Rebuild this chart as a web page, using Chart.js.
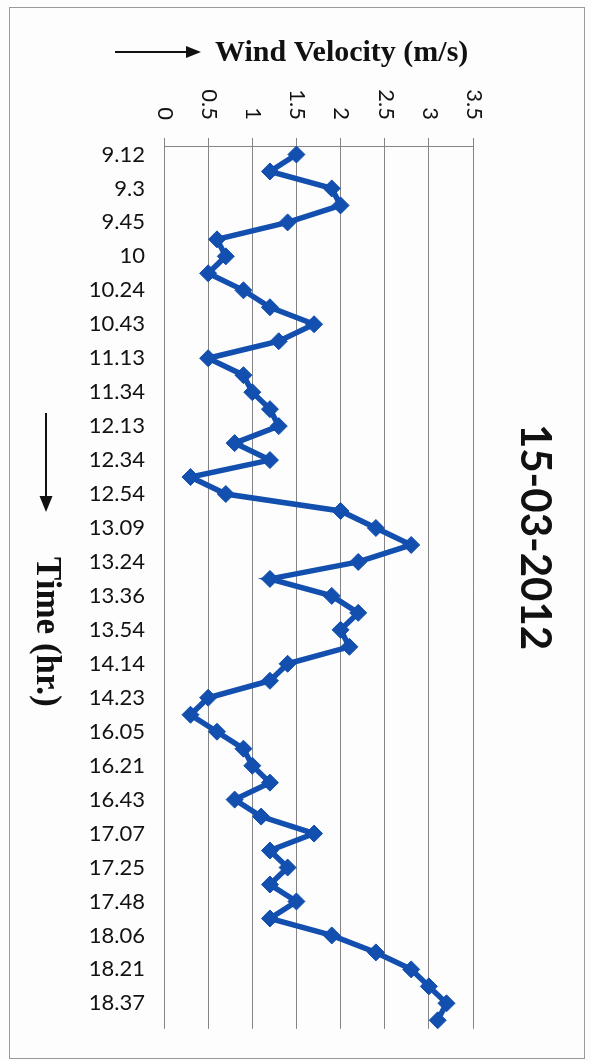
<!DOCTYPE html>
<html>
<head>
<meta charset="utf-8">
<title>Wind Velocity 15-03-2012</title>
<script src="https://cdn.jsdelivr.net/npm/chart.js@4/dist/chart.umd.min.js"></script>
<style>
  html, body { margin: 0; padding: 0; background: #fdfdfd; }
  #wrap { width: 591px; height: 1061px; }
</style>
</head>
<body>
<div id="wrap"><canvas id="chart" width="591" height="1061"></canvas></div>
<script>
// Time of reading (hr.) – labelled readings; a reading between each pair is unlabelled
const timeLabels = [
  '9.12', '9.3', '9.45', '10', '10.24', '10.43', '11.13', '11.34', '12.13',
  '12.34', '12.54', '13.09', '13.24', '13.36', '13.54', '14.14', '14.23',
  '16.05', '16.21', '16.43', '17.07', '17.25', '17.48', '18.06', '18.21', '18.37'
];

// Wind velocity (m/s), one value per reading
const windVelocity = [
  1.5, 1.2, 1.9, 2.0, 1.4, 0.6, 0.7, 0.5, 0.9, 1.2, 1.7, 1.3, 0.5,
  0.9, 1.0, 1.2, 1.3, 0.8, 1.2, 0.3, 0.7, 2.0, 2.4, 2.8, 2.2, 1.2,
  1.9, 2.2, 2.0, 2.1, 1.4, 1.2, 0.5, 0.3, 0.6, 0.9, 1.0, 1.2, 0.8,
  1.1, 1.7, 1.2, 1.4, 1.2, 1.5, 1.2, 1.9, 2.4, 2.8, 3.0, 3.2, 3.1
];

// Velocity axis range
const velocityMin = 0;
const velocityMax = 3.5;
const velocityStep = 0.5;

const chartTitle = '15-03-2012';
const velocityTitle = 'Wind Velocity (m/s)';
const timeTitle = 'Time (hr.)';

// every second reading carries a time label
const categories = windVelocity.map((_, i) => (i % 2 === 0 ? (timeLabels[i / 2] || '') : ''));

const SERIES_BLUE = '#124fae';
const GRID_GREY = '#858585';
const TEXT = '#121212';

function arrow(ctx, x1, y1, x2, y2, head, half) {
  const ang = Math.atan2(y2 - y1, x2 - x1);
  ctx.save();
  ctx.strokeStyle = '#111';
  ctx.fillStyle = '#111';
  ctx.lineWidth = 2;
  ctx.beginPath();
  ctx.moveTo(x1, y1);
  ctx.lineTo(x2 - Math.cos(ang) * head, y2 - Math.sin(ang) * head);
  ctx.stroke();
  ctx.translate(x2, y2);
  ctx.rotate(ang);
  ctx.beginPath();
  ctx.moveTo(0, 0);
  ctx.lineTo(-head, -half);
  ctx.lineTo(-head, half);
  ctx.closePath();
  ctx.fill();
  ctx.restore();
}

// Frame, rotated value labels, titles and direction arrows
const decorations = {
  id: 'decorations',
  beforeDraw(chart) {
    const ctx = chart.ctx;
    ctx.save();
    ctx.fillStyle = '#fdfdfd';
    ctx.fillRect(0, 0, chart.width, chart.height);
    ctx.strokeStyle = '#9a9a9a';
    ctx.lineWidth = 1;
    ctx.strokeRect(9.5, 7.5, 575, 1051);
    ctx.restore();
  },
  afterDraw(chart) {
    const ctx = chart.ctx;
    const xs = chart.scales.x;

    // velocity tick labels, turned a quarter clockwise, ending above the tick marks
    ctx.save();
    ctx.fillStyle = TEXT;
    ctx.font = '22px Lato';
    ctx.textAlign = 'right';
    ctx.textBaseline = 'middle';
    const labelEnd = xs.bottom - 26;
    xs.ticks.forEach(t => {
      const px = xs.getPixelForValue(t.value);
      ctx.save();
      ctx.translate(px + 1, labelEnd);
      ctx.rotate(Math.PI / 2);
      ctx.fillText(String(Number(t.value.toFixed(2))), 0, 0);
      ctx.restore();
    });
    ctx.restore();

    // chart title on the right
    ctx.save();
    ctx.fillStyle = '#111';
    ctx.font = 'bold 42px Lato';
    ctx.textAlign = 'center';
    ctx.textBaseline = 'middle';
    ctx.translate(535, 537);
    ctx.rotate(Math.PI / 2);
    ctx.fillText(chartTitle, 0, 0);
    ctx.restore();

    // velocity axis title with arrow
    ctx.save();
    ctx.fillStyle = '#111';
    ctx.font = 'bold 30px "Liberation Serif"';
    ctx.textAlign = 'left';
    ctx.textBaseline = 'middle';
    ctx.fillText(velocityTitle, 215, 53);
    ctx.restore();
    arrow(ctx, 115, 52, 201, 52, 15, 6);

    // time axis title with arrow
    ctx.save();
    ctx.fillStyle = '#111';
    ctx.font = 'bold 35px "Liberation Serif"';
    ctx.textAlign = 'left';
    ctx.textBaseline = 'middle';
    ctx.translate(46, 557);
    ctx.rotate(Math.PI / 2);
    ctx.fillText(timeTitle, 0, 0);
    ctx.restore();
    arrow(ctx, 46, 413, 46, 512, 16, 6.5);
  }
};

new Chart(document.getElementById('chart'), {
  type: 'line',
  data: {
    labels: categories,
    datasets: [{
      label: velocityTitle,
      data: windVelocity,
      borderColor: SERIES_BLUE,
      backgroundColor: SERIES_BLUE,
      borderWidth: 5.5,
      tension: 0,
      pointStyle: 'rectRot',
      pointRadius: 8.5,
      pointBackgroundColor: SERIES_BLUE,
      pointBorderColor: SERIES_BLUE,
      pointBorderWidth: 1
    }]
  },
  options: {
    indexAxis: 'y',
    responsive: false,
    devicePixelRatio: 1,
    animation: false,
    events: [],
    layout: { padding: { left: 0, top: 0, right: 118, bottom: 27 } },
    plugins: {
      legend: { display: false },
      tooltip: { enabled: false },
      title: { display: false }
    },
    scales: {
      x: {
        type: 'linear',
        position: 'top',
        min: velocityMin,
        max: velocityMax,
        ticks: { stepSize: velocityStep, display: false },
        grid: { color: GRID_GREY, lineWidth: 1, drawTicks: true, tickLength: 8 },
        border: { display: true, color: GRID_GREY, width: 1 },
        afterFit(scale) { scale.height = 146; }
      },
      y: {
        type: 'category',
        position: 'left',
        offset: true,
        grid: { display: false, drawTicks: false },
        border: { display: false },
        ticks: {
          autoSkip: false,
          padding: 19,
          color: TEXT,
          font: { family: 'Lato', size: 22 }
        },
        afterFit(scale) { scale.width = 164; }
      }
    }
  },
  plugins: [decorations]
});
</script>
</body>
</html>
